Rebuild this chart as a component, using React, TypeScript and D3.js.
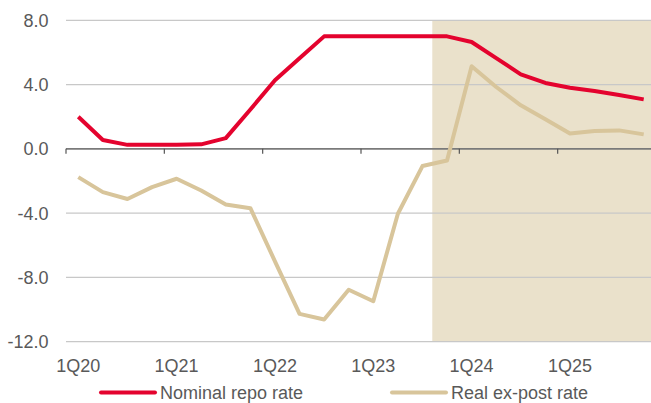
import React from "react";
import * as d3 from "d3";

const quarters = [
  "1Q20","2Q20","3Q20","4Q20","1Q21","2Q21","3Q21","4Q21",
  "1Q22","2Q22","3Q22","4Q22","1Q23","2Q23","3Q23","4Q23",
  "1Q24","2Q24","3Q24","4Q24","1Q25","2Q25","3Q25","4Q25",
];
const nominalRepo = [
  2.0, 0.55, 0.25, 0.25, 0.25, 0.28, 0.67, 2.45,
  4.27, 5.64, 7.0, 7.0, 7.0, 7.0, 7.0, 7.0,
  6.65, 5.65, 4.64, 4.1, 3.8, 3.6, 3.35, 3.08,
];
const realExPost = [
  -1.76, -2.69, -3.12, -2.38, -1.86, -2.59, -3.46, -3.69,
  -7.0, -10.27, -10.62, -8.77, -9.48, -4.04, -1.07, -0.72,
  5.14, 3.85, 2.71, 1.84, 0.95, 1.11, 1.15, 0.9,
];
const yTicks = [8, 4, 0, -4, -8, -12];
const xLabelEvery = 4;
const forecastStart = 14.4; // in quarter index units (shaded outlook region)
const seriesNames = ["Nominal repo rate", "Real ex-post rate"];
const colors = ["#E4032E", "#D8C59B"];

const W = 651;
const H = 403;
const left = 66;
const right = 656;
const top = 20.3;
const bottom = 341.7;
const font = "'Liberation Sans', Arial, sans-serif";
const textColor = "#595959";
const fs = 18;

export default function App() {
  const n = quarters.length;
  const x = d3.scaleLinear().domain([-0.5, n - 0.5]).range([left, right]);
  const y = d3.scaleLinear().domain([-12, 8]).range([bottom, top]);
  const line = d3
    .line<number>()
    .x((_, i) => x(i))
    .y((d) => y(d));
  const boundaries = d3.range(0, n + 1, xLabelEvery);
  const labelIdx = d3.range(0, n, xLabelEvery);
  const legendX = [101, 392];

  return (
    <svg
      width={W}
      height={H}
      style={{ position: "absolute", left: 0, top: 0 }}
      fontFamily={font}
    >
      <rect x={0} y={0} width={W} height={H} fill="#fff" />
      <rect
        x={x(forecastStart)}
        y={y(8)}
        width={x(n - 0.5) - x(forecastStart)}
        height={y(-12) - y(8)}
        fill="#EAE1CB"
      />
      {yTicks.map((t) => (
        <g key={t}>
          {t !== 0 && (
            <line x1={left} x2={right} y1={y(t)} y2={y(t)} stroke="#C8C8C8" strokeWidth={1.2} />
          )}
          <text
            x={48.5}
            y={y(t)}
            dy="0.36em"
            textAnchor="end"
            fontSize={fs}
            fill={textColor}
          >
            {t.toFixed(1)}
          </text>
        </g>
      ))}
      <line x1={left} x2={right} y1={y(0)} y2={y(0)} stroke="#7A7A7A" strokeWidth={1.8} />
      {boundaries.map((b) => (
        <line key={b} x1={x(b - 0.5)} x2={x(b - 0.5)} y1={y(0)} y2={y(0) + 5} stroke="#555" strokeWidth={1.2} />
      ))}
      {labelIdx.map((i) => (
        <text key={i} x={x(i)} y={371.5} textAnchor="middle" fontSize={fs} fill={textColor}>
          {quarters[i]}
        </text>
      ))}
      <path d={line(realExPost) || ""} fill="none" stroke={colors[1]} strokeWidth={4} strokeLinejoin="round" />
      <path d={line(nominalRepo) || ""} fill="none" stroke={colors[0]} strokeWidth={4} strokeLinejoin="round" />
      {seriesNames.map((s, i) => (
        <g key={s}>
          <line x1={legendX[i]} x2={legendX[i] + 54} y1={392.5} y2={392.5} stroke={colors[i]} strokeWidth={4} strokeLinecap="round" />
          <text x={legendX[i] + 59} y={399} fontSize={fs} fill={textColor}>
            {s}
          </text>
        </g>
      ))}
    </svg>
  );
}
